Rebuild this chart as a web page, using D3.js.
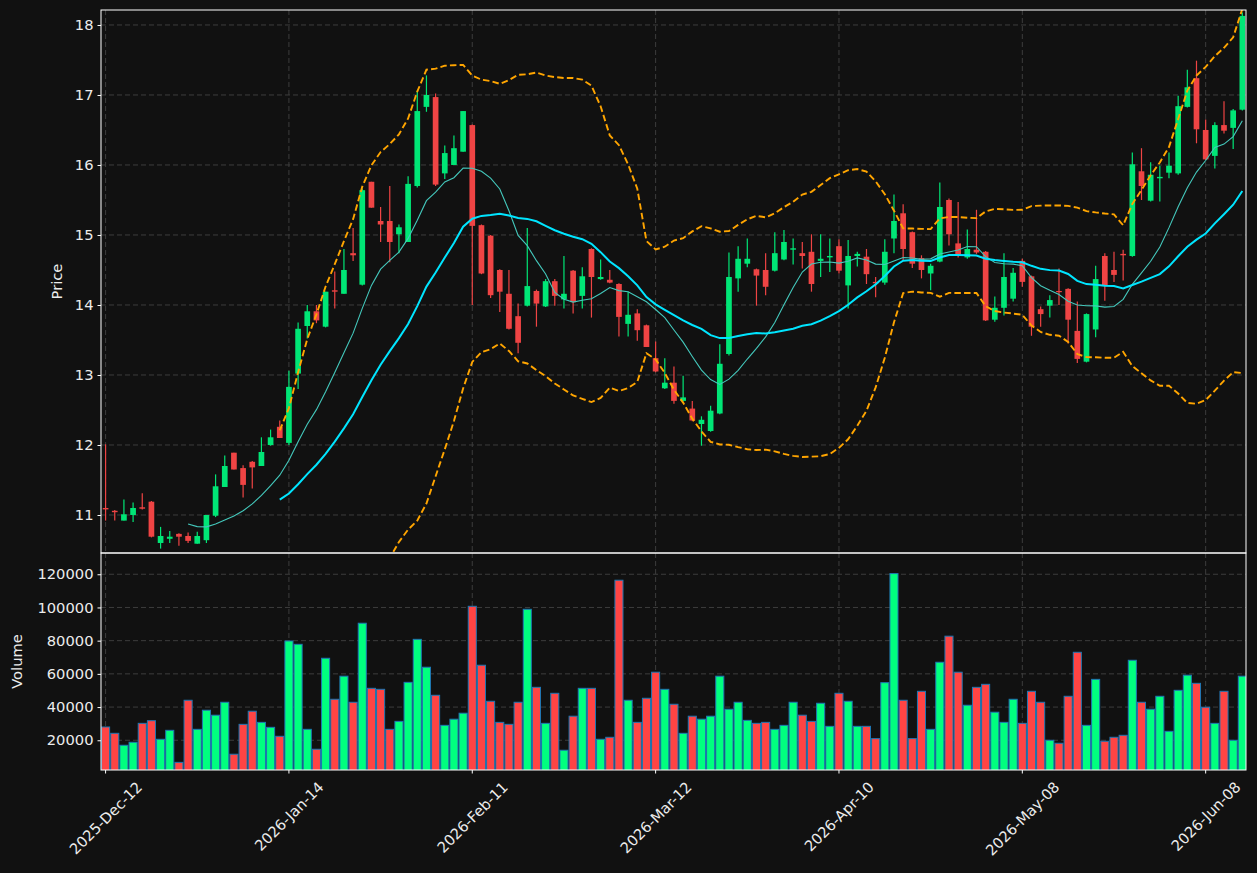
<!DOCTYPE html>
<html>
<head>
<meta charset="utf-8">
<script src="https://cdn.jsdelivr.net/npm/d3@7"></script>
<style>
  body { margin: 0; background: #111111; }
  svg { display: block; font-family: "DejaVu Sans", sans-serif; }
</style>
</head>
<body>
<svg id="chart" width="1257" height="873"></svg>
<script>
// ---- data (one entry per trading bar) ----
var opens = [11.10,11.06,10.92,11.00,11.11,11.19,10.60,10.66,10.73,10.70,
  10.59,10.64,10.99,11.40,11.89,11.67,11.76,11.70,12.00,12.26,
  12.03,13.02,13.70,13.91,13.69,14.21,14.16,14.74,14.29,15.76,
  15.20,15.20,15.01,14.90,15.70,16.83,16.97,15.88,16.00,16.19,
  16.57,15.14,14.99,14.50,14.16,13.84,13.99,14.20,13.98,14.34,
  14.08,14.49,14.13,14.80,14.37,14.36,14.30,13.73,13.88,13.71,
  13.24,12.81,12.89,12.63,12.52,12.30,12.20,12.45,13.30,14.38,
  14.59,14.51,14.50,14.49,14.65,14.79,14.74,14.76,14.63,14.68,
  14.84,14.28,14.70,14.69,14.33,14.32,14.95,15.31,15.04,14.67,
  14.45,14.62,15.50,14.88,14.68,14.79,14.76,13.79,13.96,14.09,
  14.63,14.41,13.94,13.99,14.20,14.23,13.63,13.19,13.65,14.70,
  14.50,14.73,14.70,15.91,15.49,15.81,15.89,15.88,16.83,17.24,
  16.50,16.13,16.57,16.53,16.79];
var highs = [12.01,11.07,11.22,11.18,11.31,11.20,10.83,10.77,10.74,10.75,
  10.76,11.00,11.58,11.85,11.89,11.71,11.77,12.11,12.22,12.35,
  13.06,13.75,14.00,14.00,14.19,14.48,14.80,15.10,15.66,15.76,
  15.40,15.70,15.15,15.84,17.06,17.28,17.02,16.28,16.42,16.77,
  16.58,15.15,15.00,14.51,14.50,14.02,15.10,14.22,14.37,14.37,
  14.70,14.50,14.54,14.81,14.65,14.50,14.31,14.19,13.94,13.72,
  13.48,13.24,13.12,12.99,12.63,12.41,12.56,13.44,14.75,14.84,
  14.95,14.52,14.74,15.04,15.07,14.95,14.90,15.01,15.01,14.95,
  14.94,14.93,14.76,14.80,14.40,14.94,15.58,15.44,15.05,14.71,
  14.59,15.75,15.52,15.47,15.08,15.36,14.77,14.12,14.74,14.53,
  14.66,14.42,13.98,14.14,14.52,14.24,14.05,13.88,14.56,14.74,
  14.76,14.79,16.18,16.24,16.04,15.99,16.18,16.99,17.36,17.49,
  16.65,16.61,16.91,16.80,18.18];
var lows = [10.92,10.92,10.92,10.90,11.08,10.68,10.52,10.60,10.56,10.60,
  10.59,10.60,10.97,11.40,11.65,11.25,11.38,11.70,11.99,12.10,
  12.00,12.80,13.52,13.74,13.68,13.95,14.16,14.63,14.28,15.39,
  14.90,14.61,14.74,14.90,15.68,16.76,15.70,15.80,16.00,16.19,
  14.00,14.44,14.10,13.90,13.65,13.31,13.98,13.69,13.97,13.99,
  13.95,13.88,13.95,13.82,14.36,14.31,13.55,13.55,13.49,13.40,
  13.04,12.80,12.59,12.62,12.34,11.99,12.19,12.44,13.28,14.19,
  14.54,13.99,14.14,14.48,14.64,14.58,14.52,14.19,14.40,14.47,
  14.45,13.95,14.55,14.30,14.11,14.29,14.74,14.64,14.53,14.38,
  14.21,14.61,14.85,14.68,14.66,14.73,13.77,13.76,13.85,14.05,
  14.26,13.56,13.69,13.82,14.00,13.45,13.17,13.18,13.54,14.06,
  14.33,14.35,14.69,15.50,15.48,15.48,15.81,15.86,16.82,16.31,
  16.07,15.95,16.45,16.23,16.78];
var closes = [11.08,11.04,11.01,11.10,11.09,10.69,10.70,10.69,10.69,10.63,
  10.70,11.00,11.41,11.70,11.65,11.43,11.68,11.90,12.11,12.10,
  12.83,13.66,13.91,13.78,14.19,14.19,14.50,14.71,15.64,15.39,
  15.15,14.90,15.11,15.73,16.77,17.00,15.72,16.17,16.24,16.77,
  15.13,14.45,14.14,14.19,13.66,13.46,14.27,14.02,14.34,14.13,
  14.16,14.04,14.41,14.40,14.40,14.32,13.83,13.86,13.64,13.40,
  13.05,12.89,12.63,12.68,12.35,12.36,12.49,13.16,14.40,14.66,
  14.66,14.42,14.26,14.74,14.90,14.81,14.70,14.30,14.66,14.70,
  14.49,14.70,14.73,14.44,14.31,14.76,15.20,14.80,14.59,14.50,
  14.56,15.40,15.01,14.72,14.80,14.75,13.78,13.96,14.40,14.46,
  14.33,13.69,13.87,14.07,14.19,13.79,13.23,13.87,14.37,14.28,
  14.43,14.71,16.01,15.70,15.86,15.83,15.99,16.84,17.11,16.51,
  16.08,16.57,16.49,16.78,18.13];
var volumes = [28000,24200,17000,18800,30200,31800,20600,26000,6700,44100,
  26600,38100,35100,42900,11600,29600,37500,30800,27800,22400,
  79800,77800,26600,14600,69400,44700,58600,42900,90500,51300,
  50700,26600,31400,54900,80800,64000,47100,29000,32700,36300,
  100700,65200,43500,30800,29600,42900,98900,51900,30200,48300,
  14000,34500,51300,51300,20600,21800,116400,44100,30800,45300,
  61000,50700,41700,24200,34500,32700,34500,58600,38700,42900,
  32000,30200,30800,26600,29000,42900,35100,31400,42300,28400,
  48300,43500,28400,28400,21000,54700,120400,44100,21000,49500,
  26600,67000,82700,61000,41100,51900,53700,36900,30800,44700,
  30200,49500,42900,20000,18200,46500,73000,29000,56700,19400,
  21800,23000,68200,42900,38700,46500,25400,50100,59200,54300,
  39900,30200,49500,20000,58600];

var tickIdx = [0, 20, 40, 60, 80, 100, 120];
var tickLabels = ["2025-Dec-12", "2026-Jan-14", "2026-Feb-11", "2026-Mar-12",
  "2026-Apr-10", "2026-May-08", "2026-Jun-08"];
var priceTicks = [11, 12, 13, 14, 15, 16, 17, 18];
var volumeTicks = [20000, 40000, 60000, 80000, 100000, 120000];

// ---- layout ----
var svg = d3.select("#chart");
var left = 101, right = 1246;
var pTop = 10, pBot = 553, vTop = 553, vBot = 770;
var upCol = "#00e676", downCol = "#ef4444";
var volUp = "#00ff7f", volDown = "#ff4444";
var txtCol = "#ececec", gridCol = "#3d3d3d";
var fs = 14.7;

var n = closes.length;
var idx = d3.range(n);
var x = d3.scaleLinear().domain([-0.5, n - 0.6]).range([left, right]);
var y = d3.scaleLinear().domain([10.457, 18.214]).range([pBot, pTop]);
var yv = d3.scaleLinear().domain([2100, 132800]).range([vBot, vTop]);
var step = x(1) - x(0);

svg.append("rect").attr("width", 1257).attr("height", 873).attr("fill", "#111111");

// clip paths for each panel
var defs = svg.append("defs");
defs.append("clipPath").attr("id", "clipP").append("rect")
  .attr("x", left).attr("y", pTop).attr("width", right - left).attr("height", pBot - pTop);
defs.append("clipPath").attr("id", "clipV").append("rect")
  .attr("x", left).attr("y", vTop).attr("width", right - left).attr("height", vBot - vTop);

// grid
var grid = svg.append("g").attr("stroke", gridCol).attr("stroke-width", 1)
  .attr("stroke-dasharray", "5,3");
tickIdx.forEach(function (t) {
  grid.append("line").attr("x1", x(t)).attr("x2", x(t)).attr("y1", pTop).attr("y2", pBot);
  grid.append("line").attr("x1", x(t)).attr("x2", x(t)).attr("y1", vTop).attr("y2", vBot);
});
priceTicks.forEach(function (p) {
  grid.append("line").attr("x1", left).attr("x2", right).attr("y1", y(p)).attr("y2", y(p));
});
volumeTicks.forEach(function (v) {
  grid.append("line").attr("x1", left).attr("x2", right).attr("y1", yv(v)).attr("y2", yv(v));
});

// candles
var isUp = function (i) { return closes[i] >= opens[i]; };
var cg = svg.append("g").attr("clip-path", "url(#clipP)");
cg.selectAll("line.wick").data(idx).enter().append("line")
  .attr("x1", function (i) { return x(i); }).attr("x2", function (i) { return x(i); })
  .attr("y1", function (i) { return y(highs[i]); }).attr("y2", function (i) { return y(lows[i]); })
  .attr("stroke", function (i) { return isUp(i) ? upCol : downCol; })
  .attr("stroke-width", 1.2);
var bw = step * 0.62;
cg.selectAll("rect.body").data(idx).enter().append("rect")
  .attr("x", function (i) { return x(i) - bw / 2; })
  .attr("width", bw)
  .attr("y", function (i) { return y(Math.max(opens[i], closes[i])); })
  .attr("height", function (i) { return Math.max(1.2, Math.abs(y(opens[i]) - y(closes[i]))); })
  .attr("fill", function (i) { return isUp(i) ? upCol : downCol; });

// indicators computed from the closes
function rolling(k, fn) {
  return idx.map(function (i) {
    if (i < k - 1) return null;
    return fn(closes.slice(i - k + 1, i + 1));
  });
}
var ma10 = rolling(10, d3.mean);
var ma20 = rolling(20, d3.mean);
var sd20 = rolling(20, d3.deviation);
var bbUp = idx.map(function (i) { return ma20[i] == null ? null : ma20[i] + 2 * sd20[i]; });
var bbLo = idx.map(function (i) { return ma20[i] == null ? null : ma20[i] - 2 * sd20[i]; });

function linePath(arr) {
  return d3.line().defined(function (i) { return arr[i] != null; })
    .x(function (i) { return x(i); }).y(function (i) { return y(arr[i]); })(idx);
}
var lg = svg.append("g").attr("clip-path", "url(#clipP)").attr("fill", "none");
lg.append("path").attr("d", linePath(bbUp)).attr("stroke", "#ffa500")
  .attr("stroke-width", 1.9).attr("stroke-dasharray", "6.5,3.2");
lg.append("path").attr("d", linePath(bbLo)).attr("stroke", "#ffa500")
  .attr("stroke-width", 1.9).attr("stroke-dasharray", "6.5,3.2");
lg.append("path").attr("d", linePath(ma10)).attr("stroke", "#44c8bc").attr("stroke-width", 1.1);
lg.append("path").attr("d", linePath(ma20)).attr("stroke", "#00e5ff").attr("stroke-width", 2);

// volume bars
var vg = svg.append("g").attr("clip-path", "url(#clipV)");
var vw = step * 0.88;
vg.selectAll("rect").data(idx).enter().append("rect")
  .attr("x", function (i) { return x(i) - vw / 2; })
  .attr("width", vw)
  .attr("y", function (i) { return yv(volumes[i]); })
  .attr("height", function (i) { return vBot - yv(volumes[i]) + 2; })
  .attr("fill", function (i) { return isUp(i) ? volUp : volDown; })
  .attr("stroke", "#1f77b4").attr("stroke-width", 1);

// frames
svg.append("rect").attr("x", left).attr("y", pTop).attr("width", right - left)
  .attr("height", pBot - pTop).attr("fill", "none").attr("stroke", "#ffffff").attr("stroke-width", 1);
svg.append("rect").attr("x", left).attr("y", vTop).attr("width", right - left)
  .attr("height", vBot - vTop).attr("fill", "none").attr("stroke", "#ffffff").attr("stroke-width", 1);

// y axes
var yAx = d3.axisLeft(y).tickValues(priceTicks).tickSize(3.5).tickPadding(4).tickFormat(d3.format("d"));
var gy = svg.append("g").attr("transform", "translate(" + left + ",0)").call(yAx);
var vAx = d3.axisLeft(yv).tickValues(volumeTicks).tickSize(3.5).tickPadding(4).tickFormat(d3.format("d"));
var gv = svg.append("g").attr("transform", "translate(" + left + ",0)").call(vAx);
[gy, gv].forEach(function (g) {
  g.select(".domain").remove();
  g.selectAll(".tick line").attr("stroke", "#ffffff");
  g.selectAll(".tick text").attr("fill", txtCol).attr("font-size", fs)
    .attr("font-family", "DejaVu Sans, sans-serif");
});

// x axis: ticks + rotated labels
var gx = svg.append("g");
tickIdx.forEach(function (t, k) {
  gx.append("line").attr("x1", x(t)).attr("x2", x(t)).attr("y1", vBot).attr("y2", vBot + 3.5)
    .attr("stroke", "#ffffff");
  var tx = gx.append("text").text(tickLabels[k]).attr("fill", txtCol)
    .attr("font-size", fs).attr("text-anchor", "middle").attr("dominant-baseline", "central");
  var len = tx.node().getComputedTextLength();
  var cy = vBot + 8.5 + (len + fs * 1.1) * Math.SQRT1_2 / 2;
  tx.attr("transform", "translate(" + x(t) + "," + cy + ") rotate(-45)");
});

// axis titles
svg.append("text").text("Price").attr("fill", txtCol).attr("font-size", fs)
  .attr("text-anchor", "middle")
  .attr("transform", "translate(62," + ((pTop + pBot) / 2) + ") rotate(-90)");
svg.append("text").text("Volume").attr("fill", txtCol).attr("font-size", fs)
  .attr("text-anchor", "middle")
  .attr("transform", "translate(22," + ((vTop + vBot) / 2) + ") rotate(-90)");
</script>
</body>
</html>
